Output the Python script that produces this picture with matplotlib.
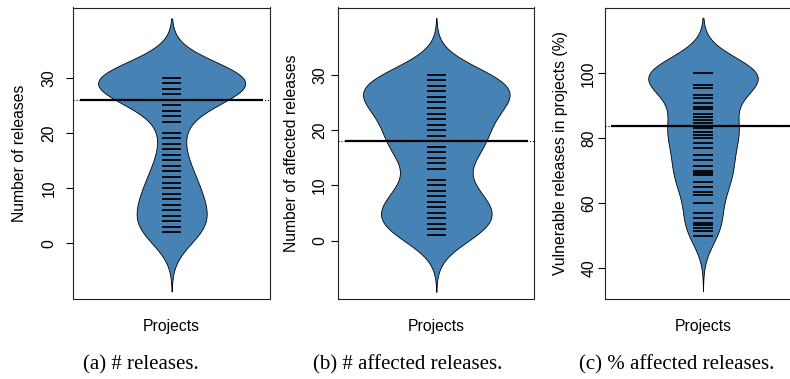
"""Bean plots of releases per project: total, affected and % affected."""
import numpy as np
import matplotlib
matplotlib.use("Agg")
import matplotlib.pyplot as plt

# (a) number of releases per project: value -> number of projects
rel_vals = [2, 3, 4, 5, 6, 7, 8, 9, 10, 11, 12, 13, 14, 15, 16, 17, 18, 19, 20,
            22, 23, 24, 25, 26, 27, 28, 29, 30]
rel_counts = [8, 4, 3, 2, 3, 2, 3, 2, 3, 2, 2, 2, 1, 1, 1, 1, 1, 1, 1,
              1, 1, 1, 2, 3, 4, 6, 10, 28]

# (b) number of affected releases per project
aff_vals = [1, 2, 3, 4, 5, 6, 7, 8, 9, 10, 11, 13, 14, 15, 16, 17, 18, 19, 20,
            21, 22, 23, 24, 25, 26, 27, 28, 29, 30]
aff_counts = [5, 5, 4, 4, 4, 4, 3, 3, 3, 2, 2, 1, 2, 2, 3, 5, 3, 3, 3,
              3, 3, 3, 4, 4, 5, 6, 7, 6, 7]

# (c) % of releases that are vulnerable
pct_vals = [50, 51.6, 52.4, 53.3, 53.8, 55.6, 57.1, 60, 62.5, 63.6, 65, 66.7,
            68.8, 69.2, 70, 71.4, 73.3, 75, 76.9, 78.6, 80, 81, 81.8, 83.3,
            83.8, 84.6, 85.7, 86.7, 87.5, 88.9, 89.7, 90.9, 92.3, 93.3, 95.5,
            96.4, 100]
pct_counts = [2, 1, 1, 1, 1, 1, 1, 2, 1, 1, 1, 3, 1, 1, 2, 2, 1, 3, 1, 1, 3, 1,
              1, 3, 2, 1, 1, 1, 1, 1, 1, 1, 1, 1, 2, 3, 22]

plt.rcParams["font.family"] = ["Liberation Sans", "DejaVu Sans"]
plt.rcParams["font.size"] = 11.3

W, H = 790, 379


def bean(ax, vals, counts, bw, halfw, rug=0.05):
    data = np.repeat(vals, counts).astype(float)
    y = np.linspace(data.min() - 3 * bw, data.max() + 3 * bw, 500)
    dens = np.exp(-0.5 * ((y[:, None] - data[None, :]) / bw) ** 2).sum(axis=1)
    w = dens / dens.max() * halfw
    ax.fill_betweenx(y, 0.5 - w, 0.5 + w, facecolor="steelblue",
                     edgecolor="black", lw=0.6, zorder=1)
    ax.hlines(np.unique(data), 0.5 - rug, 0.5 + rug, color="black", lw=1.3, zorder=2)
    med = np.median(data)
    ax.axhline(med, ls=":", lw=0.8, color="black", zorder=3)
    ax.hlines(med, 0.034, 0.966, color="black", lw=1.6, zorder=4)


panels = [
    # left px, width px, ylim, ticks, ylabel, label x (px), tick pad, data, bw, half width
    (73.3, 196.7, (-10.0, 42.7), [0, 10, 20, 30], "Number of releases", 19, 7,
     rel_vals, rel_counts, 3.57, 0.374),
    (338.3, 196.0, (-10.5, 42.2), [0, 10, 20, 30], "Number of affected releases", 291, 3,
     aff_vals, aff_counts, 3.43, 0.374),
    (604.5, 197.0, (30.7, 120.25), [40, 60, 80, 100], "Vulnerable releases in projects (%)", 560, 1,
     pct_vals, pct_counts, 5.7, 0.278),
]
captions = [(140.5, "(a) # releases."), (407.5, "(b) # affected releases."),
            (676.5, "(c) % affected releases.")]

fig = plt.figure(figsize=(W / 100, H / 100), dpi=100)
top, bottom = 7.5, 298.5
for left, width, ylim, ticks, ylab, labx, pad, vals, counts, bw, hw in panels:
    ax = fig.add_axes([left / W, 1 - bottom / H, width / W, (bottom - top) / H])
    bean(ax, vals, counts, bw, hw)
    ax.set_xlim(0, 1)
    ax.set_ylim(*ylim)
    ax.set_xticks([])
    ax.set_yticks(ticks)
    ax.tick_params(axis="y", length=5, width=0.8, pad=pad, labelrotation=90)
    for t in ax.get_yticklabels():
        t.set_va("center")
    for s in ax.spines.values():
        s.set_linewidth(0.8)
        s.set_color("#222222")
    ax.set_ylabel(ylab, va="center")
    ax.yaxis.set_label_coords((labx - left) / width, 0.5)
    ax.set_xlabel("Projects", va="center")
    ax.xaxis.set_label_coords(0.5, -(327 - bottom) / (bottom - top))

for cx, txt in captions:
    fig.text(cx / W, 1 - 365 / H, txt, ha="center", va="center",
             family=["Liberation Serif", "DejaVu Serif"], size=15)

fig.savefig("out.png", dpi=100)
